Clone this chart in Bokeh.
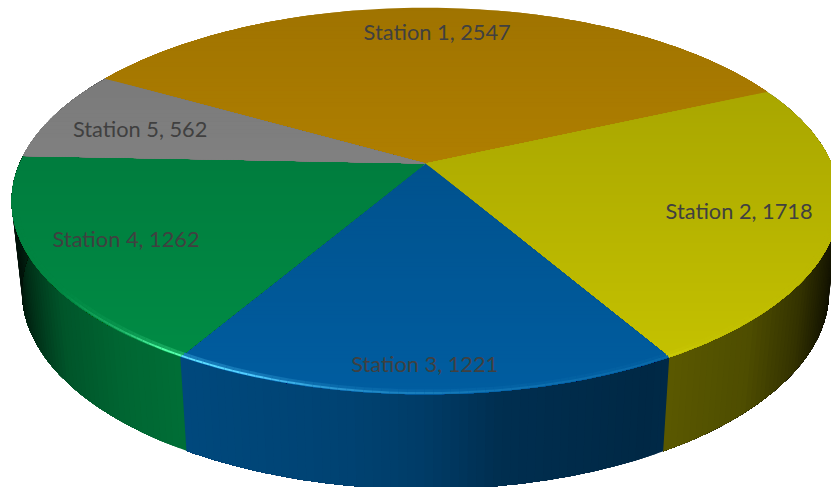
import numpy as np
from bokeh.plotting import figure
from bokeh.models import ColumnDataSource
from bokeh.core.properties import value
from bokeh.embed import file_html
from bokeh.resources import INLINE

stations = ["Station 1", "Station 2", "Station 3", "Station 4", "Station 5"]
readings = [2547, 1718, 1221, 1262, 562]
base_rgb = [(199, 144, 0), (200, 197, 0), (0, 93, 160), (0, 142, 70), (146, 146, 146)]
label_radius = [0.825, 0.775, 0.89, 0.78, 0.755]
label_turn = [-0.4, 0.5, 0.0, 0.0, -1.2]

START_DEG = -60.0
AX, BY, PERSP = 406.0, 186.0, 0.194
CX, CY = 425.0, 163.0
BOTTOM_SCALE_X, BOTTOM_SCALE_Y, BOTTOM_DY = 0.975, 1.023, 90.5

W, H = 831, 487


def top(theta, r=1.0):
    u, v = r * np.sin(theta), r * np.cos(theta)
    w = 1 + PERSP * v
    return CX + AX * u / w, CY - BY * v / w


def bottom(theta):
    x, y = top(theta)
    return CX + (x - CX) * BOTTOM_SCALE_X, 200.5 + (y - 200.5) * BOTTOM_SCALE_Y + BOTTOM_DY


def hexc(rgb):
    return "#%02x%02x%02x" % tuple(int(np.clip(round(c), 0, 255)) for c in rgb)


def top_rgb(base, y):
    f = 0.80 + 0.20 * (y - 7) / (394 - 7)
    return [c * f for c in base]


def clip_below(px, py, y0):
    """Part of a polygon lying at or under the screen line y = y0."""
    ox, oy = [], []
    n = len(px)
    for k in range(n):
        x1, y1, x2, y2 = px[k], py[k], px[(k + 1) % n], py[(k + 1) % n]
        if y1 >= y0:
            ox.append(x1); oy.append(y1)
        if (y1 >= y0) != (y2 >= y0):
            t = (y0 - y1) / (y2 - y1)
            ox.append(x1 + t * (x2 - x1)); oy.append(y0)
    return ox, oy


side_x = [10, 15, 25, 40, 60, 120, 185, 350, 420, 500, 650, 670, 750, 800, 830, 846]
side_f = [.10, .20, .32, .46, .60, .72, .78, .71, .65, .50, .43, .45, .39, .26, .12, .05]
glow_x = [20, 60, 120, 160, 190, 250, 320, 400, 500, 650, 700, 831]
glow_g = [0, 0, .6, 1.6, 1.9, 1.6, .9, .5, .3, .2, .05, 0]

fractions = np.array(readings) / sum(readings)
edges = np.radians(START_DEG + np.concatenate([[0], np.cumsum(fractions)]) * 360)

p = figure(width=W, height=H, x_range=(0, W), y_range=(H, 0), output_backend="svg",
           toolbar_location=None, min_border=0, outline_line_color=None,
           background_fill_color="white", border_fill_color="white")
p.axis.visible = False
p.grid.visible = False

# side wall: each step repaints from its angle to the end of the slice, so no seams
xs, ys, cs = [], [], []
for i, base in enumerate(base_rgb):
    n = max(2, int(np.degrees(edges[i + 1] - edges[i]) / 1.0))
    th = np.linspace(edges[i], edges[i + 1], n + 1)
    for k in range(n):
        arc = th[k:]
        if np.cos(arc).min() > 0.25:
            continue
        tx, ty = top(arc)
        bx, by = bottom(arc[::-1])
        xs.append(list(tx) + list(bx)); ys.append(list(ty) + list(by))
        xm = float(top((th[k] + th[k + 1]) / 2)[0])
        cs.append(hexc([c * np.interp(xm, side_x, side_f) for c in base]))
p.patches(xs, ys, fill_color=cs, line_color=None)

# top surface: nested bands painted from the back towards the viewer
xs, ys, cs = [], [], []
for i, base in enumerate(base_rgb):
    th = np.linspace(edges[i], edges[i + 1], 90)
    rx, ry = top(th)
    px, py = [CX] + list(rx), [CY] + list(ry)
    for y0 in np.arange(min(py) - 1, max(py), 4.0):
        ox, oy = clip_below(px, py, y0)
        if len(ox) >= 3:
            xs.append(ox); ys.append(oy)
            cs.append(hexc(top_rgb(base, y0 + 2)))
p.patches(xs, ys, fill_color=cs, line_color=None)

# bevel highlight on the front rim
for r, lw, gain in [(0.988, 3.0, 0.25), (0.996, 2.0, 1.0)]:
    xs, ys, cs = [], [], []
    for i, base in enumerate(base_rgb):
        n = max(2, int(np.degrees(edges[i + 1] - edges[i]) / 1.0))
        th = np.linspace(edges[i], edges[i + 1], n + 1)
        for a, b in zip(th[:-1], th[1:]):
            if np.cos((a + b) / 2) > -0.1:
                continue
            x0, y0 = top(a, r); x1, y1 = top(b, r)
            g = gain * np.interp((x0 + x1) / 2, glow_x, glow_g)
            rgb = top_rgb(base, (y0 + y1) / 2)
            xs.append([x0, x1]); ys.append([y0, y1])
            cs.append(hexc([rgb[0] + g * 50, rgb[1] + g * 70, rgb[2] + g * 60]))
    p.multi_line(xs, ys, line_color=cs, line_width=lw, line_cap="butt")

# data labels
mids = (edges[:-1] + edges[1:]) / 2 + np.radians(label_turn)
pts = [top(m, r) for m, r in zip(mids, label_radius)]
src = ColumnDataSource(dict(x=[q[0] for q in pts], y=[q[1] for q in pts],
                            t=[f"{s}, {v}" for s, v in zip(stations, readings)]))
p.text("x", "y", text="t", source=src, text_font=value("Lato"), text_font_size="21.8px",
       text_color="#404040", text_align="center", text_baseline="middle")

open("out.html", "w").write(file_html(p, INLINE))
